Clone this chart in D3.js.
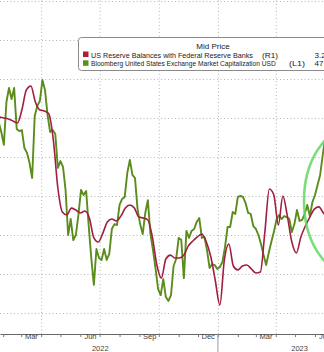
<!DOCTYPE html>
<html><head><meta charset="utf-8">
<script src="https://cdn.jsdelivr.net/npm/d3@7"></script>
<style>html,body{margin:0;padding:0;background:#fff;overflow:hidden}svg{display:block}</style>
</head><body>
<script>
// ---- data ----
const greenStart = "2022-01-25", greenStepDays = 4;   // Bloomberg US Exchange Market Cap (T USD), L1
const greenValues = [47.79,47.28,46.62,48.82,49.54,48.97,49.54,47.44,47.33,47.38,
  46.46,46.21,45.69,44.92,48.10,48.62,48.87,49.95,49.44,48.15,
  47.28,47.38,47.18,45.44,45.79,45.49,44.31,42.00,42.82,41.74,
  42.00,43.03,44.31,44.05,44.26,42.46,40.82,39.44,41.28,40.82,
  40.72,41.28,40.72,41.03,42.31,42.56,42.51,43.54,43.85,43.95,
  45.18,45.85,45.08,44.92,43.33,42.56,42.05,43.13,43.79,42.05,
  41.23,40.26,39.23,38.92,39.74,38.82,38.62,38.92,40.41,40.77,
  41.85,41.74,39.79,42.21,41.85,42.21,42.31,42.67,42.87,41.85,
  41.90,41.23,40.31,40.51,40.46,40.26,40.36,40.62,41.38,42.41,
  42.41,43.18,43.08,43.95,44.00,43.95,43.64,43.13,43.08,42.46,
  42.31,42.00,41.54,40.97,40.46,41.08,41.64,42.15,42.77,43.03,
  42.82,42.97,42.92,42.82,42.15,42.56,43.28,42.72,42.77,43.08,
  43.54,42.97,43.69,44.05,44.56,45.08,46.10,47.05];
const redStart = "2022-01-26", redStepDays = 7;       // US Reserve Balances (T USD), R1
const redValues = [3.805,3.800,3.795,3.785,3.774,3.841,3.944,3.964,3.882,3.841,
  3.836,3.821,3.687,3.441,3.318,3.303,3.338,3.328,3.313,3.323,
  3.287,3.185,3.164,3.210,3.267,3.282,3.272,3.297,3.338,3.354,
  3.338,3.292,3.287,3.277,3.190,3.046,2.979,3.077,3.097,3.082,
  3.082,3.097,3.144,3.169,3.190,3.205,3.164,3.087,2.964,2.841,
  3.072,3.154,3.041,3.021,3.041,3.046,3.026,3.005,3.010,3.215,
  3.436,3.405,3.251,3.400,3.297,3.164,3.108,3.190,3.246,3.292,
  3.333,3.344,3.313,3.287];
const xDomain = ["2022-01-27", "2023-06-15"];
const leftDomain = [38, 54], rightDomain = [2.8, 4.4];
const leftGridValues = [38, 40, 42, 44, 46, 48, 50, 52, 54];
const monthLabels = ["Mar", "Jun", "Sep", "Dec"];
const yearLabels = [{text: "2022", at: "2022-07-02"}, {text: "2023", at: "2023-05-08"}];
const legendTitle = "Mid Price";
const seriesNames = ["US Reserve Balances with Federal Reserve Banks",
                     "Bloomberg United States Exchange Market Capitalization USD"];
const seriesAxes = ["(R1)", "(L1)"];

// ---- setup ----
const W = 324, H = 352, axisY = 334;
const parse = d3.utcParse("%Y-%m-%d");
const greenData = greenValues.map((v, i) => ({d: d3.utcDay.offset(parse(greenStart), i * greenStepDays), v}));
const redData = redValues.map((v, i) => ({d: d3.utcDay.offset(parse(redStart), i * redStepDays), v}));

const x = d3.scaleUtc().domain(xDomain.map(parse)).range([0, W]);
const yL = d3.scaleLinear().domain(leftDomain).range([313, 1]);
const yR = d3.scaleLinear().domain(rightDomain).range([313, 1]);

const svg = d3.select("body").append("svg").attr("width", W).attr("height", H)
  .style("font-family", "'Liberation Sans', Arial, sans-serif");
svg.append("rect").attr("width", W).attr("height", H).attr("fill", "#fff");

const gridStyle = g => g.selectAll("line").attr("stroke", "#b4b4b4").attr("stroke-width", 1).attr("stroke-dasharray", "1,2.5");

// horizontal grid
svg.append("g").call(d3.axisLeft(yL).tickValues(leftGridValues).tickSize(-W).tickFormat(""))
  .call(g => g.select(".domain").remove()).call(gridStyle);

// vertical grid at quarter starts
const quarterStarts = d3.utcMonth.range(...x.domain()).filter(d => d.getUTCMonth() % 3 === 0);
svg.append("g").attr("transform", `translate(0,${axisY})`)
  .call(d3.axisBottom(x).tickValues(quarterStarts).tickSize(-axisY).tickFormat(""))
  .call(g => g.select(".domain").remove()).call(gridStyle);

// lines
const gLine = d3.line().x(d => x(d.d)).y(d => yL(d.v));
const rLine = d3.line().x(d => x(d.d)).y(d => yR(d.v)).curve(d3.curveMonotoneX);
svg.append("path").datum(greenData).attr("d", gLine).attr("fill", "none")
  .attr("stroke", "#5b8c1c").attr("stroke-width", 1.9).attr("stroke-linejoin", "round");
svg.append("path").datum(redData).attr("d", rLine).attr("fill", "none")
  .attr("stroke", "#a01f40").attr("stroke-width", 1.6).attr("stroke-linejoin", "round");

// annotation ellipse
const defs = svg.append("defs");
defs.append("filter").attr("id", "soft").append("feGaussianBlur").attr("stdDeviation", 0.7);
svg.append("ellipse").attr("cx", 350).attr("cy", 201).attr("rx", 46).attr("ry", 72)
  .attr("fill", "none").attr("stroke", "#62d862").attr("stroke-width", 2.6)
  .attr("opacity", 0.85).attr("filter", "url(#soft)");

// x axis
const monthStarts = d3.utcMonth.range(...x.domain());
const ax = svg.append("g").attr("transform", `translate(0,${axisY})`)
  .call(d3.axisBottom(x).tickValues(monthStarts).tickSize(3).tickSizeOuter(0).tickFormat(""));
ax.select(".domain").attr("stroke", "#666");
ax.selectAll(".tick line").attr("stroke", "#777");

const midMonths = monthStarts.filter(d => monthLabels.includes(d3.utcFormat("%b")(d)))
  .map(d => d3.utcDay.offset(d, 15));
const lab = svg.append("g").attr("transform", `translate(0,${axisY})`)
  .call(d3.axisBottom(x).tickValues(midMonths).tickSize(0).tickFormat(d3.utcFormat("%b")));
lab.select(".domain").remove();
lab.selectAll("text").attr("font-size", 7.5).attr("fill", "#444").attr("dy", "0.25em")
  .attr("font-family", "'Liberation Sans', Arial, sans-serif");

svg.append("line").attr("x1", x(parse("2023-01-01"))).attr("x2", x(parse("2023-01-01")))
  .attr("y1", axisY).attr("y2", H).attr("stroke", "#999");
svg.selectAll("text.yr").data(yearLabels).join("text").attr("class", "yr")
  .attr("x", d => x(parse(d.at))).attr("y", 351).attr("text-anchor", "middle")
  .attr("font-size", 7.5).attr("fill", "#444").text(d => d.text);

// legend
const lg = svg.append("g");
lg.append("rect").attr("x", 78.5).attr("y", 37.5).attr("width", 260).attr("height", 33).attr("rx", 3)
  .attr("fill", "#fff").attr("stroke", "#8a8a8a").attr("stroke-width", 1);
lg.append("text").attr("x", 213).attr("y", 49).attr("text-anchor", "middle")
  .attr("font-size", 8).attr("fill", "#222").text(legendTitle);
const colors = ["#b01c30", "#5b8f1c"];
const lastVals = [d3.format(".2f")(redValues[redValues.length - 1]) + "T",
                  d3.format(".2f")(greenValues[greenValues.length - 1]) + "T"];
const nameLens = [162, 185], axisX = [262, 289];
[0, 1].forEach(i => {
  const yb = 57.5 + i * 8.8;
  lg.append("rect").attr("x", 83).attr("y", yb - 6).attr("width", 5.5).attr("height", 5.5).attr("fill", colors[i]);
  const t = lg.append("text").attr("font-size", 8).attr("fill", "#222").text(seriesNames[i]);
  const natural = t.node().getComputedTextLength();
  t.attr("transform", `translate(91,${yb}) scale(${nameLens[i] / natural},1)`);
  const a = lg.append("text").attr("font-size", 8).attr("fill", "#222").text(seriesAxes[i]);
  const na = a.node().getComputedTextLength();
  a.attr("transform", `translate(${axisX[i]},${yb}) scale(${16 / na},1)`);
  lg.append("text").attr("x", 314.5).attr("y", yb).attr("font-size", 8).attr("fill", "#222").text(lastVals[i]);
});
</script>
</body></html>
